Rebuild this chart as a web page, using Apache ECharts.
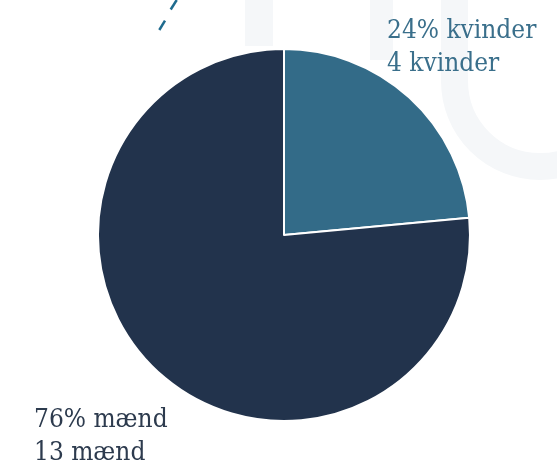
<!DOCTYPE html>
<html>
<head>
<meta charset="utf-8">
<script src="https://cdn.jsdelivr.net/npm/echarts@6/dist/echarts.min.js"></script>
<style>
html,body{margin:0;padding:0;background:#fff;}
#c{width:557px;height:463px;}
</style>
</head>
<body>
<div id="c"></div>
<script>
var categories = ['kvinder', 'mænd'];
var counts = [4, 13];
var percents = [24, 76];
var sliceColors = ['#336b88', '#22334c'];
var labelColors = ['#3a6f8b', '#2d3b4e'];

var chart = echarts.init(document.getElementById('c'), null, {renderer: 'canvas'});
var wm = '#f5f7f9';
var option = {
  backgroundColor: '#ffffff',
  animation: false,
  graphic: [
    {type: 'rect', shape: {x: 245, y: 0, width: 28, height: 46}, style: {fill: wm}, z: -10},
    {type: 'rect', shape: {x: 370, y: 0, width: 23, height: 60}, style: {fill: wm}, z: -10},
    {type: 'rect', shape: {x: 441, y: 0, width: 27, height: 81}, style: {fill: wm}, z: -10},
    {type: 'arc', shape: {cx: 540, cy: 81, r: 85.5, startAngle: 0, endAngle: Math.PI, clockwise: true},
      style: {stroke: wm, lineWidth: 27, fill: null}, z: -10},
    {type: 'line', shape: {x1: 176.7, y1: 0, x2: 170.7, y2: 9.5}, style: {stroke: '#1f6b8e', lineWidth: 2.5}},
    {type: 'line', shape: {x1: 165, y1: 20.7, x2: 159.3, y2: 30}, style: {stroke: '#1f6b8e', lineWidth: 2.5}}
  ],
  series: [{
    type: 'pie',
    center: [284, 235],
    radius: [0, 186],
    startAngle: 90,
    clockwise: true,
    silent: true,
    itemStyle: {borderColor: '#ffffff', borderWidth: 2},
    labelLine: {show: false},
    label: {
      show: true,
      fontFamily: '"DejaVu Serif Condensed", "DejaVu Serif"',
      fontSize: 26,
      lineHeight: 33,
      overflow: 'none',
      formatter: function (p) {
        var i = p.dataIndex;
        return percents[i] + '% ' + categories[i] + '\n' + counts[i] + ' ' + categories[i];
      }
    },
    labelLayout: function (params) {
      if (params.dataIndex === 0) {
        return {x: 387, y: 15, align: 'left', verticalAlign: 'top', width: 200};
      }
      return {x: 34, y: 404, align: 'left', verticalAlign: 'top', width: 200};
    },
    data: categories.map(function (c, i) {
      return {
        name: c,
        value: counts[i],
        itemStyle: {color: sliceColors[i]},
        label: {color: labelColors[i]}
      };
    })
  }]
};
chart.setOption(option);
</script>
</body>
</html>
